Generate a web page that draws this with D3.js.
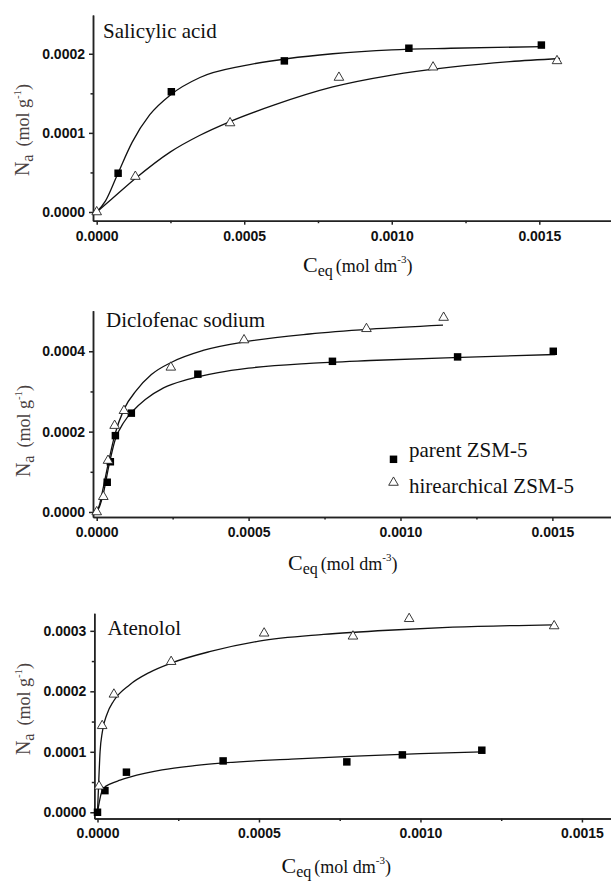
<!DOCTYPE html>
<meta charset="utf-8">
<head>
    <title>Adsorption isotherms</title>
    <script src="https://cdn.jsdelivr.net/npm/d3@7"></script>
</head>

<style>
    body { margin: 0; background: #fff; }
    svg { display: block; }
    .tick text {
        font-family: "Liberation Sans", Arial, sans-serif;
        font-weight: bold;
        font-size: 14px;
        fill: #111;
    }
    .domain, .tick line { stroke: #222; stroke-width: 1.5; }
    .fit { fill: none; stroke: #111; stroke-width: 1.3; }
    .serif, .serif tspan { font-family: "Liberation Serif", "Times New Roman", serif; }
    .serif { fill: #111; }
    .ylab { fill: #4a4242; }
</style>

<body>
<svg id="chart"></svg>

<script>
    // series names (legend)
    var seriesNames = ["parent ZSM-5", "hirearchical ZSM-5"];

    // Salicylic acid: measured points [Ceq, Na]
    var salParent = [[0.0000726, 0.000049], [0.000253, 0.000152], [0.000636, 0.000191],
        [0.001058, 0.000207], [0.001507, 0.000211]];
    var salHier = [[0, 0], [0.000131, 0.0000448], [0.000452, 0.0001125], [0.000821, 0.00017],
        [0.00114, 0.000183], [0.00156, 0.000191]];
    // fitted curves
    var salParentFit = [[0, 0], [0.00003, 0.000014], [0.00007, 0.000047], [0.00012, 0.000088],
        [0.00018, 0.000123], [0.00025, 0.000148], [0.00035, 0.00017], [0.0005, 0.000185],
        [0.00065, 0.000194], [0.0008, 0.0002], [0.001, 0.000205], [0.0012, 0.000207], [0.00151, 0.000209]];
    var salHierFit = [[0, 0], [0.00005, 0.000016], [0.00013, 0.000042], [0.00025, 0.000076],
        [0.00035, 0.000097], [0.00045, 0.000114], [0.0006, 0.000135], [0.0008, 0.000158],
        [0.001, 0.000173], [0.0012, 0.000183], [0.0014, 0.00019], [0.00157, 0.000194]];

    // Diclofenac sodium
    var dicParent = [[0.0000346, 0.000074], [0.0000449, 0.000125], [0.0000615, 0.00019],
        [0.000114, 0.000246], [0.000333, 0.000343], [0.000776, 0.000375], [0.001188, 0.000386],
        [0.001503, 0.0004]];
    var dicHier = [[0, 0], [0.0000218, 0.000038], [0.0000372, 0.000128], [0.000059, 0.000215],
        [0.0000897, 0.000252], [0.000244, 0.00036], [0.000485, 0.000428], [0.000888, 0.000456],
        [0.001142, 0.000484]];
    var dicParentFit = [[0, 0], [0.00001, 0.000015], [0.00002, 0.00004], [0.00004, 0.000115],
        [0.00006, 0.000178], [0.00009, 0.000224], [0.00012, 0.000252], [0.00016, 0.00028],
        [0.00022, 0.000309], [0.0003, 0.00033], [0.0004, 0.000347], [0.0005, 0.000358],
        [0.0007, 0.00037], [0.0009, 0.000377], [0.0012, 0.000385], [0.00151, 0.000392]];
    var dicHierFit = [[0, 0], [0.00001, 0.00002], [0.00002, 0.000055], [0.00004, 0.000128],
        [0.00006, 0.000193], [0.00009, 0.000256], [0.00013, 0.000302], [0.00018, 0.000342],
        [0.00025, 0.000374], [0.00035, 0.000402], [0.0005, 0.000425], [0.0007, 0.000443],
        [0.0009, 0.000455], [0.00114, 0.000465]];

    // Atenolol
    var ateParent = [[0, 0], [0.000023, 0.0000358], [0.0000896, 0.0000663], [0.000389, 0.0000849],
        [0.000772, 0.0000833], [0.000944, 0.0000949], [0.00119, 0.0001026]];
    var ateHier = [[0.0000048, 0.000043], [0.0000145, 0.000143], [0.0000508, 0.000195],
        [0.000228, 0.000249], [0.000516, 0.000296], [0.000791, 0.000291], [0.000965, 0.00032],
        [0.001414, 0.000308]];
    var ateParentFit = [[0, 0], [0.000005, 0.000015], [0.000012, 0.000032], [0.00002, 0.00004],
        [0.00004, 0.000047], [0.00007, 0.000053], [0.0001, 0.000058], [0.0002, 0.00007],
        [0.0003, 0.000077], [0.0004, 0.000082], [0.0006, 0.000088], [0.0008, 0.000093],
        [0.001, 0.000097], [0.00119, 0.0001]];
    var ateHierFit = [[0, 0], [0.000003, 0.00004], [0.000008, 0.0001], [0.000015, 0.000133],
        [0.00003, 0.000163], [0.00005, 0.000184], [0.0001, 0.000211], [0.00016, 0.000231],
        [0.00023, 0.000247], [0.00035, 0.000266], [0.0005, 0.000283], [0.0007, 0.000294],
        [0.0009, 0.000301], [0.0011, 0.000306], [0.00141, 0.00031]];

    // tick values
    var xMajor = [0, 0.0005, 0.001, 0.0015];
    var xMinor = [0.00025, 0.00075, 0.00125];
    var yMajor1 = [0, 0.0001, 0.0002], yMinor1 = [0.00005, 0.00015];
    var yMajor2 = [0, 0.0002, 0.0004], yMinor2 = [0.0001, 0.0003];
    var yMajor3 = [0, 0.0001, 0.0002, 0.0003], yMinor3 = [0.00005, 0.00015, 0.00025];

    var panels = [
        { title: "Salicylic acid", parent: salParent, hier: salHier, parentFit: salParentFit, hierFit: salHierFit,
          xDom: [-0.0000125, 0.001743], xRange: [93, 611], yDom: [-0.000011, 0.000249], yRange: [220.7, 15],
          yMajor: yMajor1, yMinor: yMinor1, titlePos: [103, 38], xLabPos: [303, 271.5], yLabPos: [29, 130] },
        { title: "Diclofenac sodium", parent: dicParent, hier: dicHier, parentFit: dicParentFit, hierFit: dicHierFit,
          xDom: [-0.0000122, 0.001693], xRange: [93, 611], yDom: [-0.0000125, 0.000501], yRange: [517, 310.7],
          yMajor: yMajor2, yMinor: yMinor2, titlePos: [106, 327], xLabPos: [288, 570], yLabPos: [30, 431],
          legend: true },
        { title: "Atenolol", parent: ateParent, hier: ateHier, parentFit: ateParentFit, hierFit: ateHierFit,
          xDom: [-0.0000099, 0.00159], xRange: [94.3, 611], yDom: [-0.0000103, 0.000329], yRange: [818.5, 613.3],
          yMajor: yMajor3, yMinor: yMinor3, titlePos: [107.5, 635], xLabPos: [281.5, 872.5], yLabPos: [30, 709] }
    ];

    var svg = d3.select('#chart').attr('width', 611).attr('height', 881);
    var fmt = d3.format(".4f");
    var squareSym = d3.symbol().type(d3.symbolSquare).size(56);
    var triSym = d3.symbol().type(d3.symbolTriangle).size(40);

    panels.forEach(function (p) {
        var x = d3.scaleLinear().domain(p.xDom).range(p.xRange);
        var y = d3.scaleLinear().domain(p.yDom).range(p.yRange);
        var g = svg.append('g');
        var xAt = p.yRange[0], yAt = p.xRange[0];

        // minor ticks first, then major axis on top
        g.append('g').attr('transform', 'translate(0,' + xAt + ')')
            .call(d3.axisBottom(x).tickValues(xMinor).tickFormat('').tickSize(2.5).tickSizeOuter(0));
        g.append('g').attr('transform', 'translate(0,' + xAt + ')')
            .call(d3.axisBottom(x).tickValues(xMajor).tickFormat(fmt).tickSize(4).tickPadding(6).tickSizeOuter(0));
        g.append('g').attr('transform', 'translate(' + yAt + ',0)')
            .call(d3.axisLeft(y).tickValues(p.yMinor).tickFormat('').tickSize(2.5).tickSizeOuter(0));
        g.append('g').attr('transform', 'translate(' + yAt + ',0)')
            .call(d3.axisLeft(y).tickValues(p.yMajor).tickFormat(fmt).tickSize(4).tickPadding(4).tickSizeOuter(0));

        var line = d3.line()
            .x(function (d) { return x(d[0]); })
            .y(function (d) { return y(d[1]); })
            .curve(d3.curveMonotoneX);

        g.append('path').attr('class', 'fit').attr('d', line(p.parentFit));
        g.append('path').attr('class', 'fit').attr('d', line(p.hierFit));

        g.selectAll('.sq').data(p.parent).enter().append('path')
            .attr('d', squareSym)
            .attr('transform', function (d) { return 'translate(' + x(d[0]) + ',' + y(d[1]) + ')'; })
            .attr('fill', '#000');
        g.selectAll('.tri').data(p.hier).enter().append('path')
            .attr('d', triSym)
            .attr('transform', function (d) { return 'translate(' + x(d[0]) + ',' + y(d[1]) + ')'; })
            .attr('fill', '#fff').attr('stroke', '#222').attr('stroke-width', 0.9);

        // panel title
        g.append('text').attr('class', 'serif')
            .attr('x', p.titlePos[0]).attr('y', p.titlePos[1])
            .style('font-size', '21px').text(p.title);

        // x label: Ceq (mol dm-3)
        var xl = g.append('text').attr('class', 'serif')
            .attr('x', p.xLabPos[0]).attr('y', p.xLabPos[1]);
        xl.append('tspan').style('font-size', '22px').text('C');
        xl.append('tspan').style('font-size', '16px').attr('dy', 4).text('eq');
        xl.append('tspan').style('font-size', '18px').attr('dy', -4).attr('dx', 3).text('(mol dm');
        xl.append('tspan').style('font-size', '11px').attr('dy', -9).text('-3');
        xl.append('tspan').style('font-size', '18px').attr('dy', 9).text(')');

        // y label: Na (mol g-1)
        var yl = g.append('text').attr('class', 'serif ylab')
            .attr('text-anchor', 'middle')
            .attr('transform', 'translate(' + p.yLabPos[0] + ',' + p.yLabPos[1] + ') rotate(-90)');
        yl.append('tspan').style('font-size', '20px').text('N');
        yl.append('tspan').style('font-size', '16px').attr('dy', 4).text('a');
        yl.append('tspan').style('font-size', '18px').attr('dy', -4).attr('dx', 8).text('(mol g');
        yl.append('tspan').style('font-size', '11px').attr('dy', -8).text('-1');
        yl.append('tspan').style('font-size', '18px').attr('dy', 8).text(')');

        if (p.legend) {
            var lg = g.append('g');
            var rows = [{ sym: squareSym, fill: '#000', stroke: 'none', sy: 459.3, ty: 457.3 },
                        { sym: triSym, fill: '#fff', stroke: '#222', sy: 482.5, ty: 492.7 }];
            rows.forEach(function (r, i) {
                lg.append('path').attr('d', r.sym)
                    .attr('transform', 'translate(393.5,' + r.sy + ')')
                    .attr('fill', r.fill).attr('stroke', r.stroke).attr('stroke-width', 0.9);
                lg.append('text').attr('class', 'serif')
                    .attr('x', 409).attr('y', r.ty)
                    .style('font-size', '21px').text(seriesNames[i]);
            });
        }
    });
</script>
</body>
